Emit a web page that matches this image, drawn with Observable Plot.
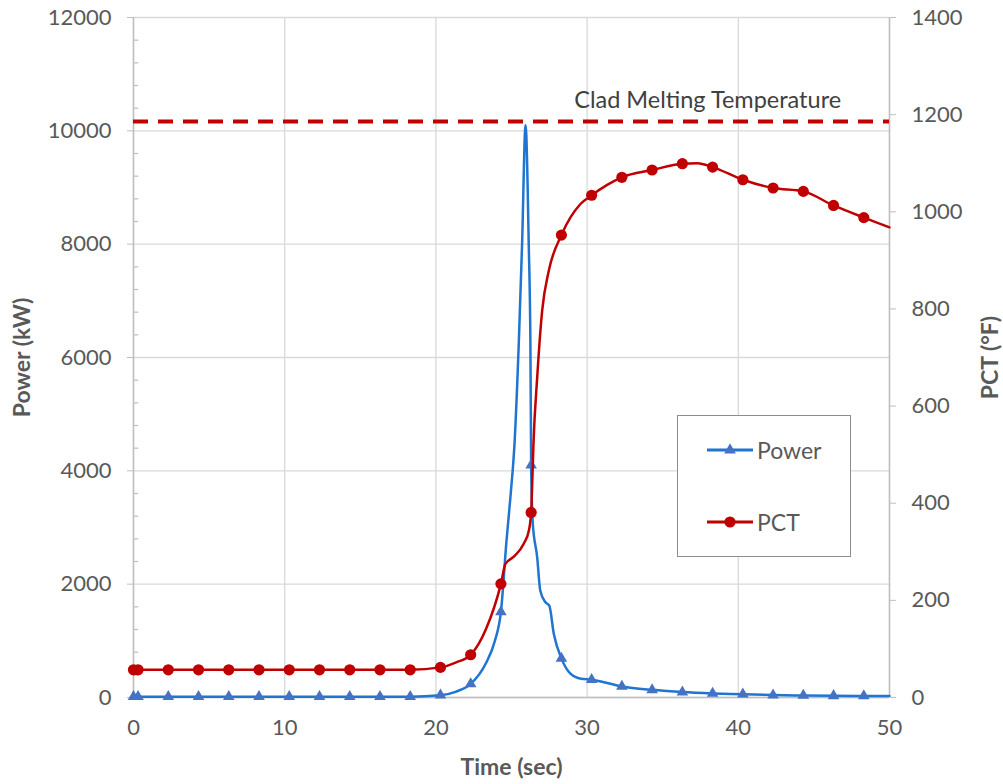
<!DOCTYPE html>
<html>
<head>
<meta charset="utf-8">
<script src="https://cdn.jsdelivr.net/npm/d3@7"></script>
<script src="https://cdn.jsdelivr.net/npm/@observablehq/plot@0.6"></script>
<style>
  html, body { margin: 0; padding: 0; background: #fff; }
  #wrap { position: relative; width: 1003px; height: 784px; font-family: Lato, sans-serif; }
  #legend { position: absolute; left: 677px; top: 415px; width: 174px; height: 142px;
            border: 1.5px solid #8c8c8c; background: #fff; box-sizing: border-box; }
  .item { position: absolute; left: 28px; display: flex; align-items: center; }
  .item span { font-size: 23px; color: #595959; margin-left: 3px; }
</style>
</head>
<body>
<div id="wrap"></div>
<script>
// ---- Data ----
// Power (kW) line, dense points (time in seconds)
const powerLineTime = [0, 2.3, 4.3, 6.3, 8.3, 10.3, 12.3, 14.3, 16.3, 18.3, 20.3, 21.3, 22.3, 23.3, 23.9, 24.3, 24.67, 24.95, 25.2, 25.48, 25.7, 25.93, 26.14, 26.25, 26.3, 26.4, 26.7, 26.9, 27.25, 27.5, 27.8, 28.3, 28.9, 29.6, 30.3, 32.3, 34.3, 36.3, 38.3, 40.3, 42.3, 44.3, 46.3, 48.3, 50];
const powerLineKW   = [15, 15, 15, 15, 15, 15, 15, 15, 15, 15, 40, 100, 240, 600, 1000, 1510, 2770, 3600, 4480, 6240, 8000, 10100, 8000, 6240, 4100, 3100, 2470, 1890, 1680, 1620, 1120, 690, 420, 330, 315, 195, 135, 95, 72, 58, 42, 35, 30, 27, 25];

// PCT (°F) line, dense points
const pctLineTime = [0, 2.3, 4.3, 6.3, 8.3, 10.3, 12.3, 14.3, 16.3, 18.3, 20.3, 21.3, 22.3, 23.3, 24.3, 24.6, 25.15, 25.8, 26.15, 26.3, 26.36, 26.45, 26.7, 27.03, 27.47, 28.3, 29.56, 30.3, 31.3, 32.3, 34.3, 36.3, 37.3, 38.3, 40.3, 42.3, 44.3, 46.3, 48.3, 50];
const pctLineF    = [57, 57, 57, 57, 57, 57, 57, 57, 57, 57, 62, 72, 88, 140, 234, 275, 290, 316, 344, 381, 430, 520, 659, 797, 879, 952, 1016, 1034, 1055, 1071, 1086, 1099, 1100, 1092, 1066, 1049, 1042, 1013, 988, 968];

// Marker points
const markerTime = [0, 0.3, 2.3, 4.3, 6.3, 8.3, 10.3, 12.3, 14.3, 16.3, 18.3, 20.3, 22.3, 24.3, 26.3, 28.3, 30.3, 32.3, 34.3, 36.3, 38.3, 40.3, 42.3, 44.3, 46.3, 48.3];
const markerKW   = [15, 15, 15, 15, 15, 15, 15, 15, 15, 15, 15, 40, 240, 1510, 4100, 690, 315, 195, 135, 95, 72, 58, 42, 35, 30, 27];
const markerF    = [57, 57, 57, 57, 57, 57, 57, 57, 57, 57, 57, 62, 88, 234, 381, 952, 1034, 1071, 1086, 1099, 1092, 1066, 1049, 1042, 1013, 988];

// Reference line and annotation
const cladTempF = 1186;
const cladLabel = "Clad Melting Temperature";
const cladLabelTime = 46.8;

// Axis ticks
const timeTicks  = [0, 10, 20, 30, 40, 50];
const powerTicks = [0, 2000, 4000, 6000, 8000, 10000, 12000];
const powerMinorTicks = [400, 800, 1200, 1600, 2400, 2800, 3200, 3600, 4400, 4800, 5200, 5600, 6400, 6800, 7200, 7600, 8400, 8800, 9200, 9600, 10400, 10800, 11200, 11600];
const pctTicks   = [0, 200, 400, 600, 800, 1000, 1200, 1400];

// Series styling
const series = [
  {name: "Power", line: "#1f75cf", marker: "#4472C4", symbol: "triangle"},
  {name: "PCT",   line: "#C00000", marker: "#C00000", symbol: "circle"}
];

// ---- Build ----
const k = 12000 / 1400; // PCT -> power-axis scale factor
const powerLine = powerLineTime.map((t, i) => ({t, v: powerLineKW[i]}));
const pctLine = pctLineTime.map((t, i) => ({t, v: pctLineF[i] * k}));
const powerMarks = markerTime.map((t, i) => ({t, v: markerKW[i]}));
const pctMarks = markerTime.map((t, i) => ({t, v: markerF[i] * k}));

const tickColor = "#595959";
const axisLine = "#bfbfbf";
const gridColor = "#d9d9d9";
const fs = 22;
const titleFs = 23;

const chart = Plot.plot({
  width: 1003,
  height: 784,
  marginLeft: 133,
  marginRight: 114,
  marginTop: 17,
  marginBottom: 87,
  x: {domain: [0, 50]},
  y: {domain: [0, 12000]},
  style: {fontFamily: "Lato, sans-serif", background: "white", overflow: "visible"},
  marks: [
    Plot.gridY(powerTicks, {stroke: gridColor, strokeOpacity: 1, strokeWidth: 1.3}),
    Plot.gridX(timeTicks, {stroke: gridColor, strokeOpacity: 1, strokeWidth: 1.3}),
    Plot.ruleX([0], {stroke: axisLine, strokeWidth: 1.5}),
    Plot.ruleX([50], {stroke: axisLine, strokeWidth: 1.5}),
    Plot.ruleY([0], {stroke: axisLine, strokeWidth: 1.5}),
    Plot.ruleY(powerMinorTicks, {x1: 0, x2: 0.35, stroke: axisLine, strokeWidth: 1.2}),
    Plot.axisY(powerTicks, {anchor: "left", tickSize: 6, tickPadding: 16, fontSize: fs, fill: tickColor, stroke: axisLine, tickFormat: d => String(d), label: null}),
    Plot.axisY(pctTicks.map(v => v * k), {anchor: "right", tickSize: 6, tickPadding: 16, fontSize: fs, fill: tickColor, stroke: axisLine, tickFormat: d => String(Math.round(d / k)), label: null}),
    Plot.axisX(timeTicks, {anchor: "bottom", tickSize: 0, tickPadding: 22, fontSize: fs, fill: tickColor, label: null}),
    Plot.text(["Power (kW)"], {frameAnchor: "left", textAnchor: "middle", rotate: -90, dx: -111, fontSize: titleFs, fontWeight: "bold", fill: tickColor}),
    Plot.text(["PCT (°F)"], {frameAnchor: "right", textAnchor: "middle", rotate: -90, dx: 101, fontSize: titleFs, fontWeight: "bold", fill: tickColor}),
    Plot.text(["Time (sec)"], {frameAnchor: "bottom", dy: 77, fontSize: titleFs, fontWeight: "bold", fill: tickColor}),
    Plot.ruleY([cladTempF * k], {stroke: "#C00000", strokeWidth: 4, strokeDasharray: "15,10"}),
    Plot.text([{t: cladLabelTime, v: cladTempF * k, s: cladLabel}], {x: "t", y: "v", text: "s", textAnchor: "end", dy: -21, fontSize: 23.5, fill: "#404040"}),
    Plot.line(powerLine, {x: "t", y: "v", stroke: series[0].line, strokeWidth: 2.5, curve: "monotone-x"}),
    Plot.dot(powerMarks, {x: "t", y: "v", symbol: "triangle", r: 4.3, fill: series[0].marker, stroke: "none"}),
    Plot.line(pctLine, {x: "t", y: "v", stroke: series[1].line, strokeWidth: 2.5, curve: "monotone-x"}),
    Plot.dot(pctMarks, {x: "t", y: "v", symbol: "circle", r: 5.6, fill: series[1].marker, stroke: "none"})
  ]
});

const wrap = document.getElementById("wrap");
wrap.appendChild(chart);

// Legend
const legend = document.createElement("div");
legend.id = "legend";
const itemTops = [20, 92];
series.forEach((s, i) => {
  const item = document.createElement("div");
  item.className = "item";
  item.style.top = itemTops[i] + "px";
  const sym = s.symbol === "triangle"
    ? `<path d="${d3.symbol(d3.symbolTriangle, 60)()}" transform="translate(24,10)" fill="${s.marker}"/>`
    : `<circle cx="24" cy="10" r="5.6" fill="${s.marker}"/>`;
  item.innerHTML = `<svg width="48" height="20"><line x1="1" x2="47" y1="10" y2="10" stroke="${s.line}" stroke-width="3"/>${sym}</svg><span>${s.name}</span>`;
  legend.appendChild(item);
});
wrap.appendChild(legend);
</script>
</body>
</html>
